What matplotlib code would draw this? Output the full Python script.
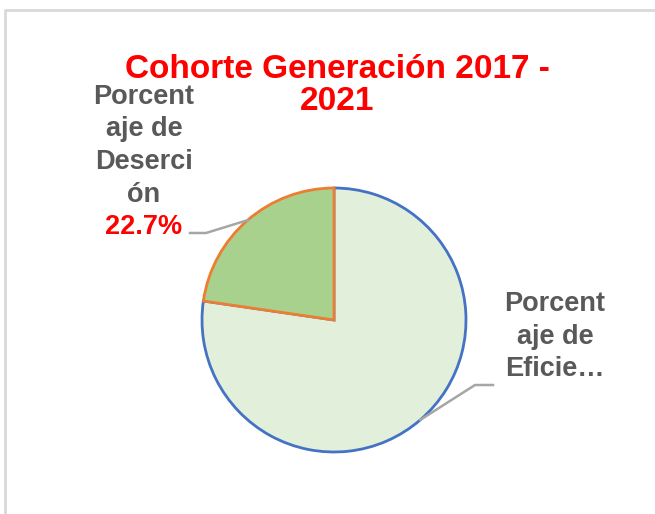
import numpy as np
import matplotlib.pyplot as plt

# data
categories = ["Porcentaje de Deserción", "Porcentaje de Eficiencia"]
values = [22.7, 77.3]
wrapped_labels = [["Porcent", "aje de", "Deserci", "ón"], ["Porcent", "aje de", "Eficie…"]]
title_lines = ["Cohorte Generación 2017 -", "2021"]

fill_colors = ["#A9D18E", "#E2EFDA"]
edge_colors = ["#ED7D31", "#4472C4"]
label_gray = "#595959"
leader_gray = "#A6A6A6"

plt.rcParams['font.family'] = ['Liberation Sans', 'DejaVu Sans']

W, H = 655, 514
fig = plt.figure(figsize=(W / 100, H / 100), dpi=100)
ax = fig.add_axes([0, 0, 1, 1])

# pie in pixel-like coordinates (y measured from bottom)
cx, cy, r = 334, H - 320, 132
wedges, _ = ax.pie(values, colors=fill_colors, startangle=90, counterclock=True,
                   center=(cx, cy), radius=r, wedgeprops=dict(linewidth=2))
for w, ec, z in zip(wedges, edge_colors, [3, 2]):
    w.set_edgecolor(ec)
    w.set_zorder(z)

ax.set_xlim(0, W)
ax.set_ylim(0, H)
ax.set_aspect('equal')
ax.axis('off')

# chart border (only top and left visible in the crop)
ax.plot([5, 5, W + 5], [-5, H - 10, H - 10], color="#D9D9D9", lw=2, clip_on=False)


def text_lines(x, y0, lines, step, color, size):
    for i, s in enumerate(lines):
        ax.text(x, H - (y0 + i * step), s, ha='center', va='center', color=color,
                fontsize=size, fontweight='bold')


def edge_point(w):
    mid = np.deg2rad((w.theta1 + w.theta2) / 2)
    return cx + r * np.cos(mid), cy + r * np.sin(mid)


# title
text_lines(337, 70, title_lines, 32, 'red', 24)

# deserción label
text_lines(144, 97, wrapped_labels[0], 32.5, label_gray, 19.5)
text_lines(144, 227, [f"{values[0]:.1f}%"], 0, 'red', 19.5)
ex, ey = edge_point(wedges[0])
ax.plot([190, 206, ex], [H - 233, H - 233, ey], color=leader_gray, lw=1.8, zorder=5)

# eficiencia label
text_lines(555, 304, wrapped_labels[1], 32.5, label_gray, 19.5)
ex, ey = edge_point(wedges[1])
ax.plot([493, 475, ex], [H - 385, H - 385, ey], color=leader_gray, lw=1.8, zorder=5)

fig.savefig("out.png", dpi=100)
